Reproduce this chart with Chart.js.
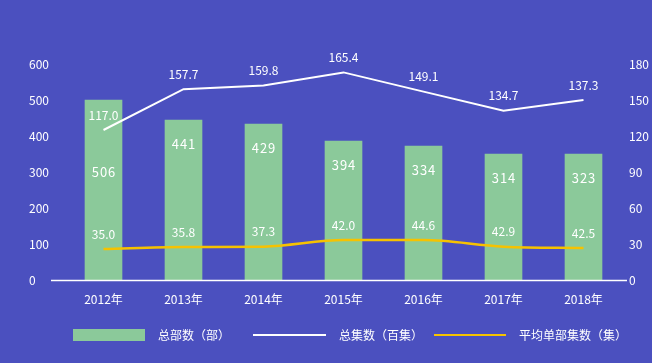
<!DOCTYPE html>
<html>
<head>
<meta charset="utf-8">
<script src="https://cdn.jsdelivr.net/npm/chart.js@4/dist/chart.umd.min.js"></script>
<style>
  html, body { margin: 0; padding: 0; background: #4b50bf; }
  #wrap { width: 652px; height: 363px; position: relative; }
</style>
</head>
<body>
<div id="wrap"><canvas id="chart"></canvas></div>
<script>
const FONT = '"Noto Sans CJK SC", "Noto Sans", sans-serif';

const years = ['2012年', '2013年', '2014年', '2015年', '2016年', '2017年', '2018年'];

// 总部数（部）
const buSeries = [500, 444, 433, 386, 372, 350, 350];
const buLabels = ['506', '441', '429', '394', '334', '314', '323'];

// 总集数（百集）
const jiSeries = [125, 159, 162, 173, 157, 141, 150];
const jiLabels = ['117.0', '157.7', '159.8', '165.4', '149.1', '134.7', '137.3'];

// 平均单部集数（集）
const pjSeries = [25.8, 27.5, 27.8, 33.3, 33.3, 27.8, 26.7];
const pjLabels = ['35.0', '35.8', '37.3', '42.0', '44.6', '42.9', '42.5'];

const leftTicks  = [0, 100, 200, 300, 400, 500, 600];
const rightTicks = [0, 30, 60, 90, 120, 150, 180];

const legendNames = ['总部数（部）', '总集数（百集）', '平均单部集数（集）'];

const GREEN  = '#8bc99a';
const WHITE  = '#ffffff';
const YELLOW = '#f6c200';

// axes, tick labels, data labels and legend drawn on top of the scales
const decor = {
  id: 'decor',
  afterDatasetsDraw(chart) {
    const ctx = chart.ctx;
    const x = chart.scales.x, yl = chart.scales.yL, yr = chart.scales.yR;
    const area = chart.chartArea;
    ctx.save();

    // base line
    ctx.strokeStyle = WHITE;
    ctx.lineWidth = 1.5;
    ctx.beginPath();
    ctx.moveTo(51, area.bottom + 0.5);
    ctx.lineTo(627, area.bottom + 0.5);
    ctx.stroke();

    ctx.fillStyle = WHITE;
    ctx.font = '12px ' + FONT;
    ctx.textBaseline = 'middle';
    ctx.textAlign = 'left';
    leftTicks.forEach(v => ctx.fillText(String(v), 29, yl.getPixelForValue(v)));
    rightTicks.forEach(v => ctx.fillText(String(v), 629, yr.getPixelForValue(v)));

    ctx.textAlign = 'center';
    years.forEach((y, i) => ctx.fillText(y, x.getPixelForValue(i), 299));

    // line labels
    const jiMeta = chart.getDatasetMeta(1).data;
    const pjMeta = chart.getDatasetMeta(2).data;
    const jiLabelY = [];
    jiMeta.forEach((p, i) => {
      const ly = p.y - 15;
      jiLabelY.push(ly);
      ctx.fillText(jiLabels[i], p.x, ly);
    });
    pjMeta.forEach((p, i) => ctx.fillText(pjLabels[i], p.x, p.y - 15));

    // bar labels, kept clear of the white line labels
    ctx.font = '13px ' + FONT;
    ctx.letterSpacing = '1px';
    const barMeta = chart.getDatasetMeta(0).data;
    barMeta.forEach((b, i) => {
      const ly = Math.max(b.y + 24, jiLabelY[i] + 57);
      ctx.fillText(buLabels[i], b.x + 0.5, ly);
    });
    ctx.letterSpacing = '0px';

    // legend
    const ly = 335;
    ctx.font = '12px ' + FONT;
    ctx.textAlign = 'left';
    ctx.fillStyle = GREEN;
    ctx.fillRect(73, ly - 6, 72, 12);
    ctx.fillStyle = WHITE;
    ctx.fillText(legendNames[0], 158, ly);

    ctx.strokeStyle = WHITE;
    ctx.lineWidth = 2;
    ctx.beginPath(); ctx.moveTo(253, ly); ctx.lineTo(326, ly); ctx.stroke();
    ctx.fillText(legendNames[1], 339, ly);

    ctx.strokeStyle = YELLOW;
    ctx.beginPath(); ctx.moveTo(434, ly); ctx.lineTo(506, ly); ctx.stroke();
    ctx.fillText(legendNames[2], 519, ly);

    ctx.restore();
  },
};

new Chart(document.getElementById('chart'), {
  data: {
    labels: years,
    datasets: [
      { type: 'bar', label: legendNames[0], data: buSeries, yAxisID: 'yL',
        backgroundColor: GREEN, barThickness: 37, order: 3 },
      { type: 'line', label: legendNames[1], data: jiSeries, yAxisID: 'yR',
        borderColor: WHITE, borderWidth: 2, pointRadius: 0, tension: 0, order: 1 },
      { type: 'line', label: legendNames[2], data: pjSeries, yAxisID: 'yR',
        borderColor: YELLOW, borderWidth: 2.5, pointRadius: 0, cubicInterpolationMode: 'monotone', order: 2 },
    ],
  },
  options: {
    responsive: true,
    maintainAspectRatio: false,
    animation: false,
    layout: { padding: { left: 63.5, right: 28.5, top: 64, bottom: 83 } },
    plugins: { legend: { display: false }, tooltip: { enabled: false } },
    scales: {
      x:  { display: false, offset: true },
      yL: { display: false, position: 'left', min: 0, max: 600 },
      yR: { display: false, position: 'right', min: 0, max: 180 },
    },
  },
  plugins: [decor],
});
</script>
</body>
</html>
